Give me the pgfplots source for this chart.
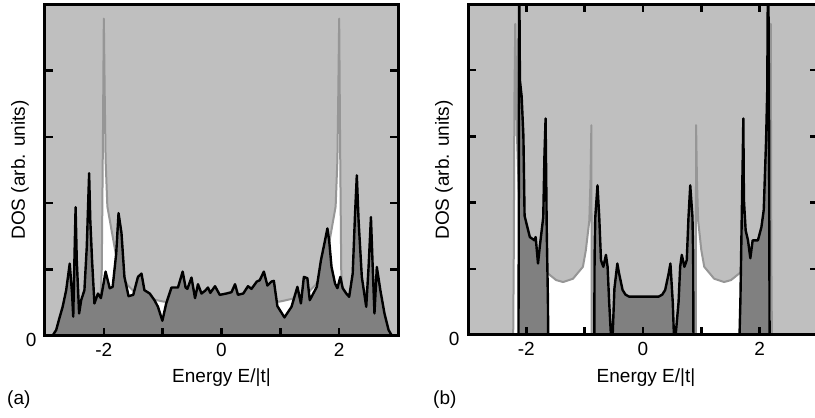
\documentclass[border=0pt]{standalone}
\usepackage{fontspec}
\setmainfont{Liberation Sans}
\usepackage{pgfplots}
\pgfplotsset{compat=1.18}
\definecolor{bggray}{RGB}{191,191,191}
\definecolor{fillgray}{RGB}{128,128,128}
\definecolor{linegray}{RGB}{150,150,150}
\definecolor{ink}{RGB}{0,0,0}
\newcommand\fs{\fontsize{19}{22}\selectfont}

\pgfplotsset{dosaxis/.style={
  scale only axis, anchor=south west,
  xmin=-3, xmax=3, ymin=0, ymax=5,
  xtick={-2,-1,0,1,2}, xticklabels={-2,,0,,2},
  ytick={0,1,2,3,4}, yticklabels={0,,,,},
  tick align=inside, major tick length=8pt,
  tick style={draw=ink, line width=2.4pt},
  axis line style={draw=ink, line width=3pt},
  axis on top,
  ticklabel style={font=\fs},
  xticklabel style={yshift=-4pt},
  yticklabel style={xshift=-5pt, yshift=-4pt},
  extra description/.code={
    \draw[ink, line width=3pt] (rel axis cs:0,0) rectangle (rel axis cs:1,1);},
},
clean/.style={draw=linegray, line width=2pt, fill=white, line join=round},
disord/.style={draw=ink, line width=2.4pt, fill=fillgray, line join=round},
}

\begin{document}
\begin{tikzpicture}
\useasboundingbox (0pt,0pt) rectangle (815pt,418pt);

% (a)
\begin{axis}[dosaxis, at={(45pt,82pt)}, width=353pt, height=332pt, xtick pos=bottom, ytick pos=both]
\fill[bggray] (rel axis cs:0,0) rectangle (rel axis cs:1,1);
\addplot[clean] coordinates {
 (-2.85,0) (-2.75,0.08) (-2.6,0.17) (-2.45,0.25) (-2.3,0.32) (-2.15,0.4) (-2.06,0.5)
 (-2.035,1.0) (-2.025,2.0) (-2.015,3.0) (-2.007,4.0) (-2.0,4.78) (-1.985,3.65) (-1.97,2.65)
 (-1.94,1.95) (-1.9,1.75) (-1.85,1.5) (-1.8,1.25) (-1.7,0.92) (-1.6,0.77) (-1.5,0.68)
 (-1.4,0.63) (-1.3,0.59) (-1.2,0.56) (-1.1,0.54) (-1.0,0.52) (-0.8,0.5) (-0.5,0.49) (0,0.48)
 (0.5,0.49) (0.8,0.5) (1.0,0.52) (1.1,0.54) (1.2,0.56) (1.3,0.59) (1.4,0.63) (1.5,0.68)
 (1.6,0.77) (1.7,0.92) (1.8,1.25) (1.85,1.5) (1.9,1.75) (1.94,1.95) (1.97,2.65) (1.985,3.65)
 (2.0,4.78) (2.007,4.0) (2.015,3.0) (2.025,2.0) (2.035,1.0) (2.06,0.5) (2.15,0.4) (2.3,0.32)
 (2.45,0.25) (2.6,0.17) (2.75,0.08) (2.85,0)
} \closedcycle;
\addplot[disord] coordinates {
 (-2.88,0) (-2.868,0.01) (-2.81,0.09) (-2.755,0.27) (-2.70,0.44) (-2.64,0.69) (-2.58,1.09)
 (-2.54,0.64) (-2.52,0.29) (-2.50,1.14) (-2.48,1.94) (-2.46,1.14) (-2.42,0.34) (-2.385,0.54)
 (-2.33,0.69) (-2.29,1.34) (-2.25,2.45) (-2.23,1.74) (-2.20,1.14) (-2.16,0.49) (-2.10,0.64)
 (-2.05,0.57) (-2.015,0.74) (-1.97,0.97) (-1.90,0.72) (-1.85,0.74) (-1.79,1.24) (-1.75,1.85)
 (-1.70,1.55) (-1.65,0.89) (-1.58,0.60) (-1.50,0.62) (-1.42,0.89) (-1.36,0.94) (-1.31,0.69)
 (-1.22,0.64) (-1.14,0.54) (-1.08,0.44) (-1.005,0.23) (-0.94,0.49) (-0.85,0.73) (-0.74,0.73)
 (-0.66,0.97) (-0.61,0.73) (-0.58,0.71) (-0.51,0.88) (-0.45,0.57) (-0.40,0.78) (-0.34,0.64)
 (-0.28,0.68) (-0.23,0.73) (-0.19,0.65) (-0.11,0.75) (-0.03,0.62) (0.085,0.64) (0.17,0.66)
 (0.23,0.78) (0.28,0.62) (0.37,0.64) (0.45,0.75) (0.51,0.71) (0.60,0.82) (0.65,0.84)
 (0.72,0.97) (0.78,0.76) (0.85,0.82) (0.89,0.83) (0.95,0.45) (1.07,0.28) (1.19,0.44)
 (1.29,0.74) (1.35,0.49) (1.40,0.89) (1.46,0.87) (1.50,0.54) (1.56,0.64) (1.62,0.74)
 (1.69,1.14) (1.76,1.44) (1.80,1.62) (1.83,1.44) (1.87,1.04) (1.93,0.79) (1.97,0.72)
 (2.02,0.89) (2.06,0.72) (2.12,0.64) (2.17,0.59) (2.23,0.94) (2.27,1.84) (2.30,2.42)
 (2.33,1.74) (2.385,0.89) (2.46,0.44) (2.50,1.04) (2.54,1.79) (2.57,1.04) (2.60,0.34)
 (2.64,1.04) (2.70,0.69) (2.77,0.34) (2.84,0.09) (2.90,0)
} \closedcycle;
\end{axis}

% (b)
\begin{axis}[dosaxis, at={(468pt,83pt)}, width=350pt, height=331pt, xtick pos=both, ytick pos=both]
\fill[bggray] (rel axis cs:0,0) rectangle (rel axis cs:1,1);
\addplot[clean] coordinates {
 (-2.225,0) (-2.215,1.24) (-2.205,3.5) (-2.19,4.7) (-2.16,3.0) (-2.13,2.2) (-2.05,1.5)
 (-1.95,1.25) (-1.85,1.05) (-1.75,1.0) (-1.63,0.93) (-1.49,0.83) (-1.37,0.80) (-1.2,0.85)
 (-1.03,1.03) (-0.98,1.28) (-0.92,1.73) (-0.9,2.34) (-0.885,3.17) (-0.88,0)
 (0.905,0) (0.91,3.17) (0.925,2.34) (0.945,1.73) (1.0,1.28) (1.05,1.03) (1.22,0.85)
 (1.39,0.80) (1.51,0.83) (1.65,0.93) (1.75,1.0) (1.85,1.05) (1.95,1.25) (2.05,1.5)
 (2.13,2.2) (2.16,3.0) (2.19,4.7) (2.2,1.24) (2.21,0)
} \closedcycle;
\addplot[disord] coordinates {
 (-2.135,0) (-2.13,1.3) (-2.125,6.0) (-2.11,3.85) (-2.08,3.6) (-2.05,3.0) (-2.03,1.8)
 (-1.94,1.48) (-1.86,1.43) (-1.84,1.48) (-1.8,1.08) (-1.77,1.33) (-1.71,1.78) (-1.69,2.69)
 (-1.67,3.27) (-1.65,1.58) (-1.63,0.53) (-1.625,0)
 (-0.835,0) (-0.83,1.2) (-0.818,1.78) (-0.78,2.26) (-0.75,1.78) (-0.72,1.13) (-0.68,1.03)
 (-0.635,1.21) (-0.607,1.03) (-0.58,0.5) (-0.55,0) (-0.52,0) (-0.49,0.7) (-0.44,1.08)
 (-0.41,0.93) (-0.35,0.68) (-0.3,0.61) (-0.24,0.58) (0.27,0.58) (0.33,0.61) (0.38,0.68)
 (0.44,0.93) (0.47,1.08) (0.51,0.5) (0.53,0) (0.56,0) (0.61,0.5) (0.637,1.03) (0.665,1.21)
 (0.71,1.03) (0.75,1.13) (0.78,1.78) (0.81,2.26) (0.848,1.78) (0.86,1.2) (0.865,0)
 (1.655,0) (1.67,0.53) (1.69,1.63) (1.71,2.69) (1.72,3.27) (1.73,2.04) (1.76,1.58)
 (1.80,1.43) (1.84,1.16) (1.88,1.43) (1.97,1.43) (2.03,1.63) (2.07,1.89) (2.11,2.94)
 (2.13,3.7) (2.145,6.0) (2.16,3.54) (2.17,0)
} \closedcycle;
\end{axis}

\node[font=\fs, rotate=90] at (20pt,248pt) {DOS (arb. units)};
\node[font=\fs] at (221.5pt,40pt) {Energy E/|t|};
\node[font=\fs, anchor=west, inner sep=0pt] at (7pt,18pt) {(a)};
\node[font=\fs, rotate=90] at (444pt,248pt) {DOS (arb. units)};
\node[font=\fs] at (646pt,40pt) {Energy E/|t|};
\node[font=\fs, anchor=west, inner sep=0pt] at (433pt,18pt) {(b)};
\end{tikzpicture}
\end{document}
